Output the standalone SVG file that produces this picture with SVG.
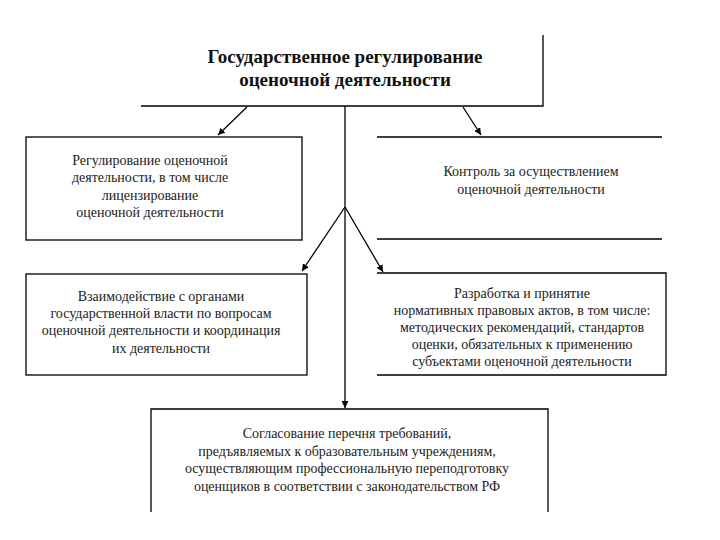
<svg xmlns="http://www.w3.org/2000/svg" width="720" height="540" viewBox="0 0 720 540">
<defs>
<marker id="ah" viewBox="0 0 10 10" refX="10" refY="5" markerWidth="7" markerHeight="7" orient="auto" markerUnits="userSpaceOnUse">
<path d="M0,0 L10,5 L0,10 Z" fill="#000"/>
</marker>
<style>
.ln{fill:none;stroke:#000;stroke-width:1.3}
text{font-family:'Liberation Serif','Times New Roman','DejaVu Serif',serif}
.t{font-size:14px;fill:#222;text-anchor:middle}
.h{font-size:19px;font-weight:bold;fill:#111;text-anchor:middle}
</style>
</defs>
<rect width="720" height="540" fill="#fff"/>
<g id="connectors">
<line class="ln" x1="345" y1="106" x2="345" y2="408" marker-end="url(#ah)"/>
<line class="ln" x1="247" y1="107" x2="218" y2="135" marker-end="url(#ah)"/>
<line class="ln" x1="463" y1="107" x2="481" y2="135" marker-end="url(#ah)"/>
<line class="ln" x1="345" y1="207" x2="302" y2="271" marker-end="url(#ah)"/>
<line class="ln" x1="345" y1="207" x2="383" y2="272" marker-end="url(#ah)"/>
</g>
<g id="top">
<path class="ln" d="M141,106 H543 V35"/>
<text class="h" x="345" y="63" font-family="Liberation Serif, serif">Государственное регулирование</text>
<text class="h" x="345" y="86" font-family="Liberation Serif, serif">оценочной деятельности</text>
</g>
<g id="licensing">
<rect class="ln" x="26" y="137" width="276" height="103"/>
<text class="t" x="150" y="165">Регулирование оценочной</text>
<text class="t" x="150" y="182">деятельности, в том числе</text>
<text class="t" x="150" y="200">лицензирование</text>
<text class="t" x="150" y="217">оценочной деятельности</text>
</g>
<g id="control">
<path class="ln" d="M377,137 H662 M377,239 H662"/>
<text class="t" x="531" y="176">Контроль за осуществлением</text>
<text class="t" x="531" y="194">оценочной деятельности</text>
</g>
<g id="interaction">
<rect class="ln" x="26" y="274" width="281" height="101"/>
<text class="t" x="161" y="301">Взаимодействие с органами</text>
<text class="t" x="161" y="318">государственной власти по вопросам</text>
<text class="t" x="161" y="335">оценочной деятельности и координация</text>
<text class="t" x="161" y="353">их деятельности</text>
</g>
<g id="normative">
<path class="ln" d="M377,273 H666 V375 H377"/>
<text class="t" x="522" y="298">Разработка и принятие</text>
<text class="t" x="522" y="315">нормативных правовых актов, в том числе:</text>
<text class="t" x="522" y="332">методических рекомендаций, стандартов</text>
<text class="t" x="522" y="349">оценки, обязательных к применению</text>
<text class="t" x="522" y="366">субъектами оценочной деятельности</text>
</g>
<g id="education">
<path class="ln" d="M151,512 V409 H548 V512"/>
<text class="t" x="347" y="438">Согласование перечня требований,</text>
<text class="t" x="347" y="456">предъявляемых к образовательным учреждениям,</text>
<text class="t" x="347" y="473">осуществляющим профессиональную переподготовку</text>
<text class="t" x="347" y="491">оценщиков в соответствии с законодательством РФ</text>
</g>
</svg>
